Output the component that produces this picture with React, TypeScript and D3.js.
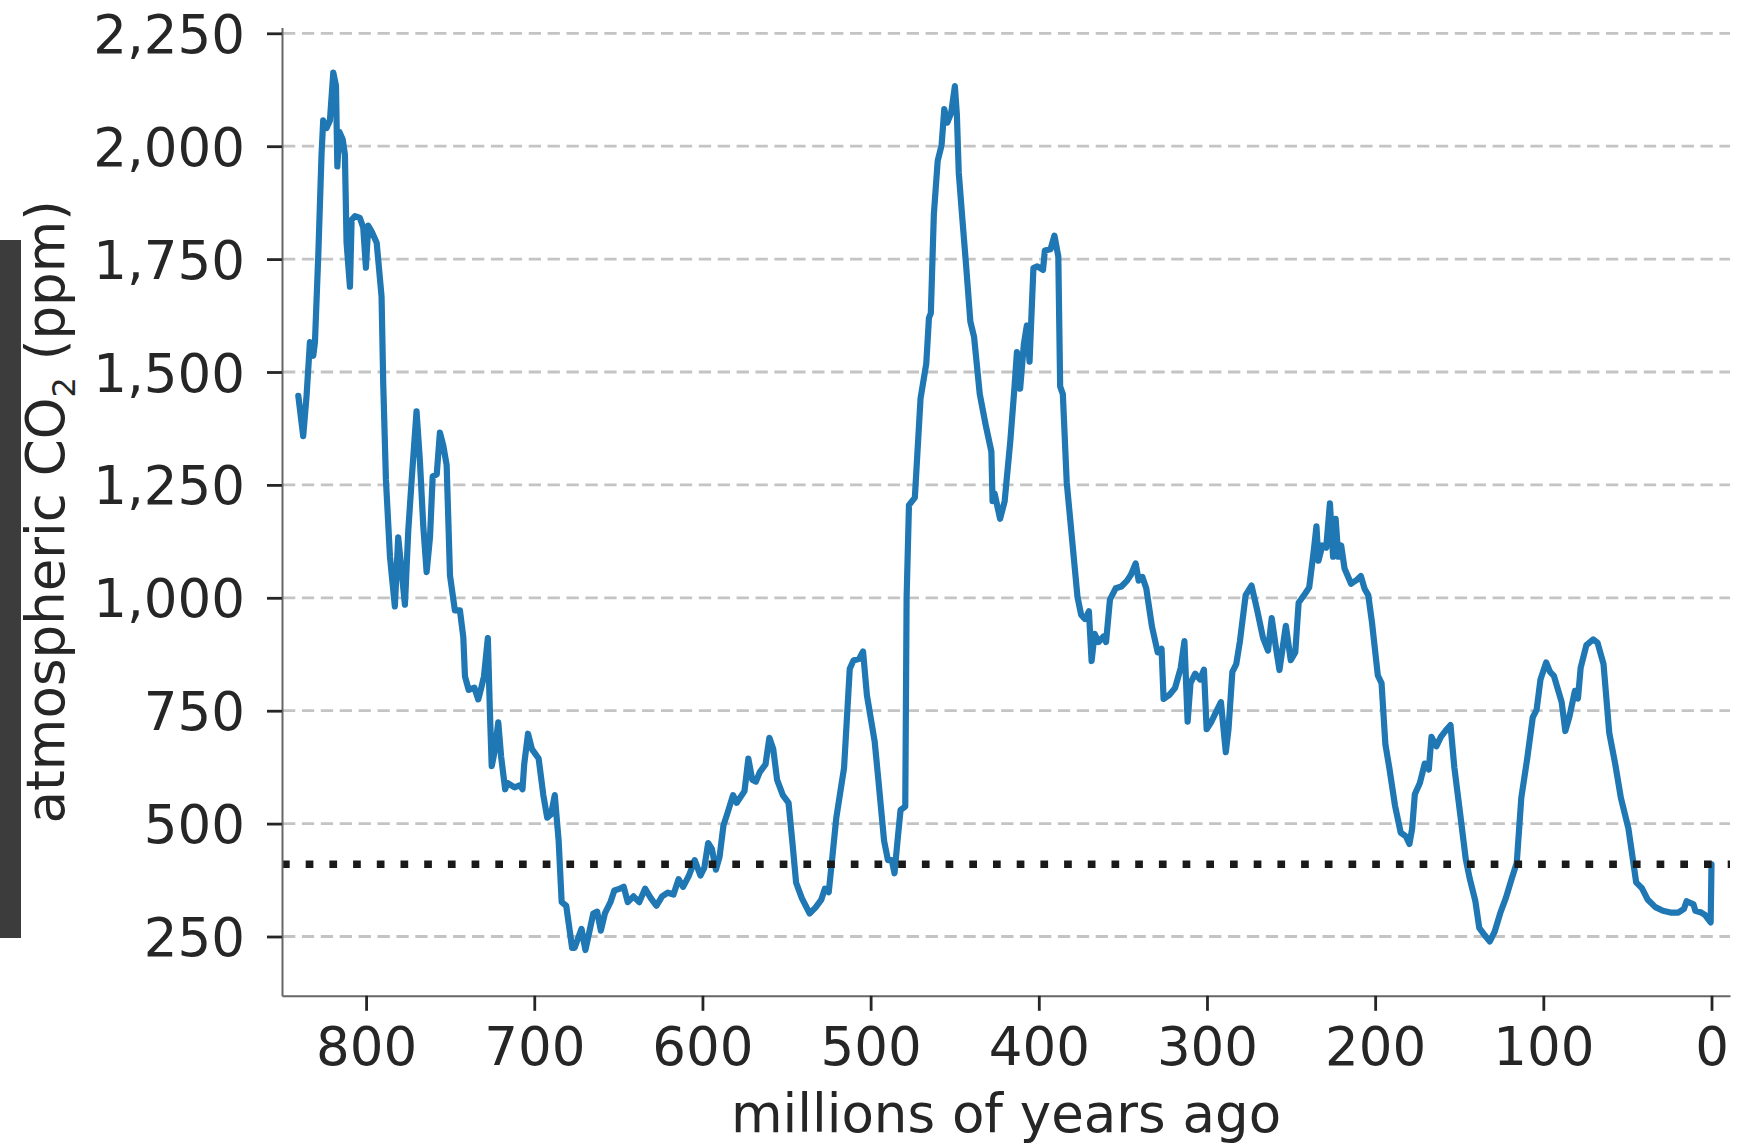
import React, { useEffect, useRef } from 'react';
import * as d3 from 'd3';

// millions of years ago (oldest first) and atmospheric CO2 in ppm
const AGES = [
  840.3, 837.4, 835.4, 833.4, 831.4, 830.4, 828.4, 826.5, 825.5, 823.5, 821.5, 819.5, 817.9, 817.1,
  815.9, 813.9, 812.6, 811.6, 809.6, 808.6, 806.6, 803.7, 801.7, 800.1, 798.7, 796.7, 793.7, 790.8,
  789.8, 788.2, 785.8, 782.9, 780.9, 776.9, 774.9, 772.9, 770, 768, 766, 764, 762, 760.4, 758, 756.1,
  754.1, 752.1, 750.1, 747.2, 744.2, 742.2, 741.2, 739, 735.6, 733.3, 731.5, 729.9, 727.6, 726.4,
  725.3, 723.7, 721.4, 719.7, 717.3, 716, 711.7, 708.3, 707, 706, 703.7, 701.4, 697.4, 694.6, 692.3,
  690, 687.8, 685.5, 683.7, 681, 677.5, 676, 671.9, 669.6, 664.9, 662.6, 660.4, 658, 654.7, 652.4,
  649, 646.8, 644.4, 641, 637.6, 634.1, 630.7, 627.4, 624, 620.6, 617.2, 614.2, 611.5, 608, 604.6,
  601.2, 598.9, 596.6, 594.4, 592, 589.8, 587.5, 585.3, 581.8, 579.6, 575, 572.7, 570.4, 568.2,
  565.9, 562.5, 560.2, 557.9, 555.6, 552.2, 548.8, 546.6, 544.3, 540.9, 536.3, 532.8, 529.4, 527.2,
  524.9, 522.7, 520.4, 515.8, 512.4, 510.2, 506.8, 504.5, 502.2, 497.6, 495.4, 492, 489.7, 487.4,
  485.8, 484, 482.2, 479.4, 478.6, 477.2, 473.7, 470.3, 466.9, 465.3, 464.2, 462.4, 460.1, 457.8,
  456.2, 454.4, 452.1, 449.9, 448.7, 447.6, 445.3, 443.1, 440.7, 438.5, 435.1, 431.6, 428.2, 427.5,
  426.3, 423, 420.3, 416.9, 414.6, 413, 411.1, 408.9, 407.1, 405.5, 403.2, 400.9, 397.5, 396.4, 393,
  390.7, 388.4, 387.3, 385.7, 383.4, 380.4, 377, 374.8, 372.5, 370.2, 368.6, 366.8, 364.5, 361.6,
  360, 357.7, 354.3, 350.9, 347.5, 345.2, 342.4, 340.6, 338.4, 336.1, 332.7, 329.3, 327, 325.8,
  322.4, 319, 315.6, 313.4, 311.5, 309.8, 307, 304.1, 301.8, 300.2, 297.3, 295, 291.7, 288.8, 287.2,
  284.9, 282.6, 280.4, 277, 273.5, 270.1, 266.7, 263.7, 261.5, 259.2, 256.9, 253.1, 250.2, 247.5,
  245.5, 241.5, 239.2, 236.4, 234.9, 233.7, 231.4, 229.1, 226.9, 225, 223.5, 221.9, 220.2, 218.2,
  214.3, 210.8, 208.5, 206.2, 204.1, 201.9, 198.4, 196.2, 193.9, 191.6, 188.2, 184.8, 181.8, 179.6,
  178, 176.4, 173.4, 170.5, 168.1, 166.5, 163.6, 160.9, 157.4, 155.2, 152.9, 149.5, 146.1, 143.8,
  140.4, 138.1, 134.7, 131.8, 129, 125.6, 122.2, 118.8, 115.8, 113.1, 109.7, 106.3, 104, 101.7, 98.3,
  96, 93.7, 89.1, 86.9, 84.6, 81.2, 79.4, 77.8, 74.4, 70.3, 67.7, 64.2, 60.8, 57.3, 53.9, 49.4, 44.8,
  41.4, 38, 33.4, 28.9, 24.4, 19.8, 16.4, 14.8, 10.7, 9.6, 6.1, 3.9, 0.5, 0,
];

const CO2 = [
  1447, 1358, 1447, 1566, 1536, 1566, 1761, 1981, 2057, 2040, 2057, 2163, 2134, 1955,
  2032, 2015, 1981, 1786, 1689, 1837, 1845, 1841, 1820, 1731, 1824, 1811, 1786, 1667,
  1473, 1261, 1091, 981, 1134, 985, 1150, 1261, 1413, 1303, 1159, 1057, 1134, 1269, 1273, 1366,
  1337, 1294, 1049, 972, 972, 913, 826, 796, 801, 775, 801, 826, 911, 750,
  627, 657, 724, 648, 576, 590, 580, 585, 576, 631, 699, 665, 644, 563, 513,
  521, 563, 462, 326, 318, 225, 225, 267, 220, 301, 305, 263, 301, 326, 352,
  356, 360, 326, 339, 326, 356, 335, 318, 339, 347, 343, 377, 360, 385, 419,
  385, 402, 457, 444, 398, 427, 496, 521, 563, 546, 572, 644, 597, 593,
  614, 631, 690, 665, 597, 563, 546, 462, 369, 335, 301, 314, 331, 356,
  348, 428, 513, 623, 843, 861, 865, 881, 784, 682, 597, 462, 419, 419,
  390, 462, 530, 538, 1000, 1205, 1222, 1442, 1519, 1620, 1630, 1849, 1968, 2002,
  2082, 2052, 2074, 2133, 2069, 1942, 1832, 1730, 1612, 1578, 1451, 1383, 1324, 1214,
  1231, 1175, 1214, 1349, 1459, 1544, 1463, 1561, 1603, 1523, 1730, 1734, 1726, 1769, 1772,
  1802, 1756, 1468, 1451, 1256, 1137, 1002, 962, 953, 970, 860, 920, 902, 914,
  902, 996, 1021, 1025, 1038, 1051, 1076, 1038, 1046, 1021, 936, 879, 887, 776,
  785, 800, 845, 904, 726, 811, 832, 819, 841, 709, 726, 744, 769, 658, 709,
  836, 853, 904, 1006, 1027, 972, 912, 883, 955, 895, 840, 938, 862, 879,
  989, 1010, 1023, 1107, 1158, 1082, 1116, 1111, 1209, 1091, 1175, 1091, 1116, 1065,
  1031, 1040, 1048, 1019, 1006, 946, 828, 811, 675, 624, 540, 480, 472, 455,
  489, 565, 590, 633, 620, 692, 671, 692, 709, 718, 624, 523, 421, 379,
  328, 269, 252, 239, 260, 302, 336, 378, 413, 557, 641, 735, 752, 819, 857,
  836, 827, 769, 705, 735, 794, 777, 845, 895, 908, 900, 853, 701, 633, 557, 489, 370,
  357, 332, 315, 307, 303, 303, 311, 328, 321, 307, 303, 298, 281, 410,
];

const CURRENT_CO2 = 410;
const X_TICKS = [800, 700, 600, 500, 400, 300, 200, 100, 0];
const Y_TICKS = [250, 500, 750, 1000, 1250, 1500, 1750, 2000, 2250];
const X_LABEL = 'millions of years ago';

export default function App() {
  const ref = useRef<SVGSVGElement | null>(null);

  useEffect(() => {
    document.body.style.margin = '0';
    const svg = d3.select(ref.current);
    svg.selectAll('*').remove();

    const W = 1754;
    const H = 1146;
    const margin = { left: 282, right: 24, top: 27.6, bottom: 150.2 };
    const font = '"DejaVu Sans", sans-serif';
    const ink = '#262626';

    const x = d3.scaleLinear().domain([850, -11]).range([margin.left, W - margin.right]);
    const y = d3.scaleLinear().domain([118.7, 2262.6]).range([H - margin.bottom, margin.top]);

    // stray dark bar at the left edge of the original image
    svg.append('rect')
      .attr('x', 0).attr('y', 240)
      .attr('width', 21).attr('height', 698)
      .attr('fill', '#3c3c3c');

    // dashed horizontal grid
    svg.append('g')
      .selectAll('line')
      .data(Y_TICKS)
      .join('line')
      .attr('x1', margin.left + 1)
      .attr('x2', W - margin.right)
      .attr('y1', (d) => y(d))
      .attr('y2', (d) => y(d))
      .attr('stroke', '#c4c4c4')
      .attr('stroke-width', 2.8)
      .attr('stroke-dasharray', '12.3,6.6');

    const line = d3.line<number>()
      .x((_, i) => x(AGES[i]))
      .y((d) => y(d));

    svg.append('path')
      .datum(CO2)
      .attr('d', line)
      .attr('fill', 'none')
      .attr('stroke', '#1f77b4')
      .attr('stroke-width', 6.2)
      .attr('stroke-linejoin', 'round')
      .attr('stroke-linecap', 'round');

    // present-day level
    svg.append('line')
      .attr('x1', margin.left)
      .attr('x2', W - margin.right)
      .attr('y1', y(CURRENT_CO2))
      .attr('y2', y(CURRENT_CO2))
      .attr('stroke', '#1a1a1a')
      .attr('stroke-width', 7.5)
      .attr('stroke-dasharray', '7.7,16');

    const yAxis = svg.append('g')
      .attr('transform', `translate(${margin.left},0)`)
      .call(
        d3.axisLeft(y)
          .tickValues(Y_TICKS)
          .tickFormat(d3.format(','))
          .tickSize(15)
          .tickSizeOuter(0)
          .tickPadding(22),
      );

    const xAxis = svg.append('g')
      .attr('transform', `translate(0,${H - margin.bottom})`)
      .call(
        d3.axisBottom(x)
          .tickValues(X_TICKS)
          .tickFormat(d3.format('d'))
          .tickSize(15)
          .tickSizeOuter(0)
          .tickPadding(17),
      );

    [yAxis, xAxis].forEach((ax) => {
      ax.select('.domain').attr('stroke', '#666').attr('stroke-width', 2);
      ax.selectAll('.tick line').attr('stroke', ink).attr('stroke-width', 2.8);
      ax.selectAll('.tick text')
        .attr('fill', ink)
        .attr('font-size', 53)
        .attr('font-family', font);
    });
    yAxis.selectAll('.tick text').attr('dy', '0.36em');

    svg.append('text')
      .attr('x', (margin.left + W - margin.right) / 2)
      .attr('y', 1132)
      .attr('text-anchor', 'middle')
      .attr('fill', ink)
      .attr('font-size', 53)
      .attr('font-family', font)
      .text(X_LABEL);

    const yl = svg.append('text')
      .attr('transform', `translate(63.5,${(margin.top + H - margin.bottom) / 2}) rotate(-90)`)
      .attr('text-anchor', 'middle')
      .attr('fill', ink)
      .attr('font-size', 53)
      .attr('font-family', font);
    yl.append('tspan').text('atmospheric CO');
    yl.append('tspan').attr('font-size', 32).attr('dy', 11).text('2');
    yl.append('tspan').attr('dy', -11).text(' (ppm)');
  }, []);

  return (
    <svg
      ref={ref}
      width={1754}
      height={1146}
      style={{ position: 'absolute', left: 0, top: 0, display: 'block', background: '#fff' }}
    />
  );
}
